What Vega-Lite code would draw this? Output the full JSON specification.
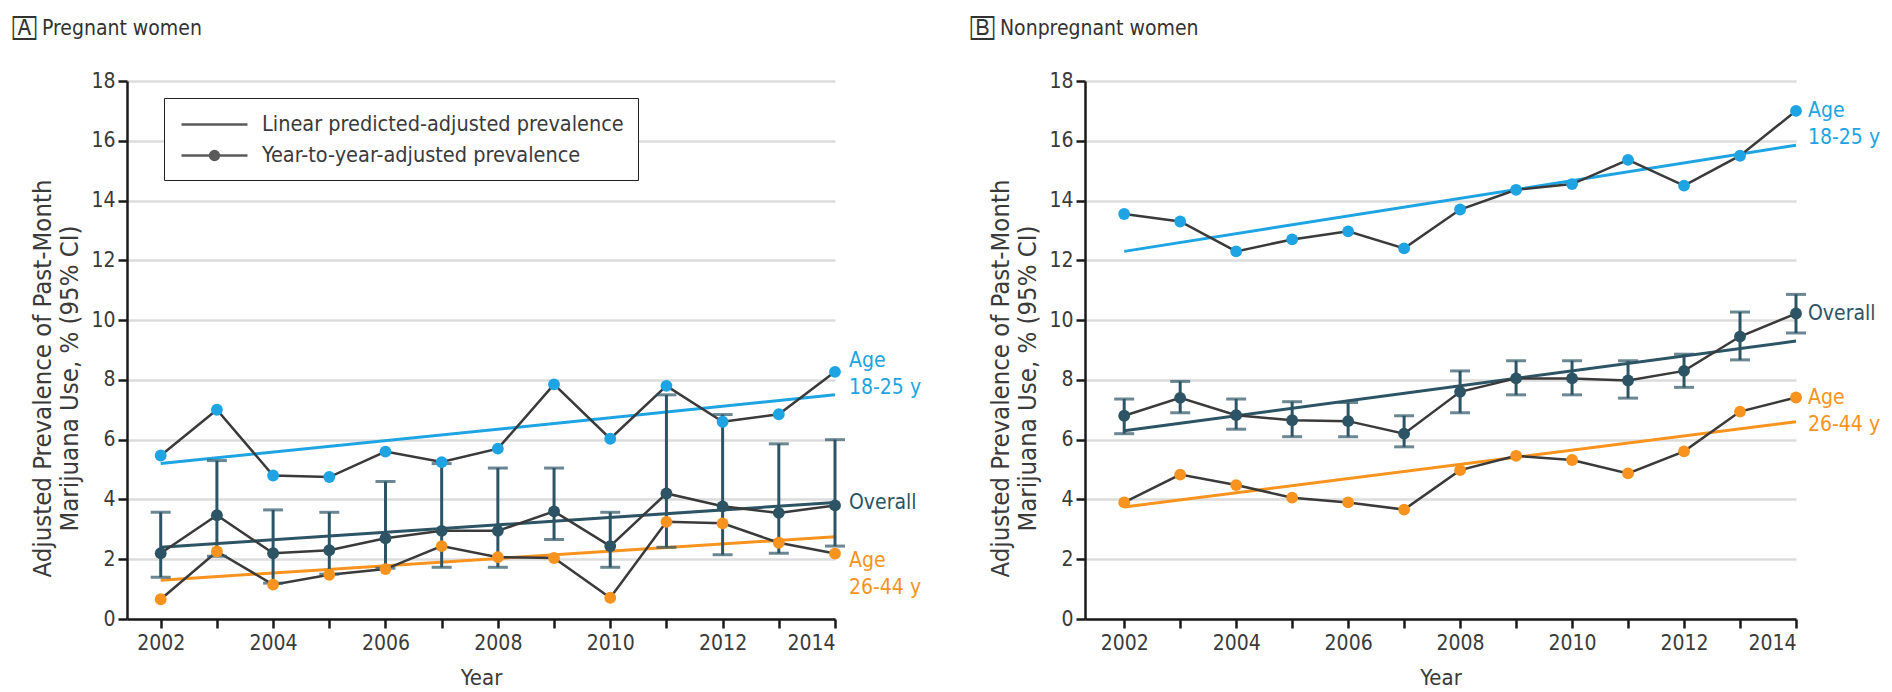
{
  "$schema": "https://vega.github.io/schema/vega-lite/v6.json",
  "padding": {"left": 12, "top": 18, "right": 5, "bottom": 5},
  "bounds": "flush",
  "spacing": 250,
  "background": "white",
  "config": {
    "view": {"stroke": null},
    "font": "DejaVu Sans Condensed",
    "axis": {
      "domainColor": "#1a1a1a", "domainWidth": 2.5,
      "tickColor": "#1a1a1a", "tickWidth": 2.5, "tickSize": 9,
      "labelFont": "DejaVu Sans Condensed", "labelFontSize": 21, "labelColor": "#3a3a3a",
      "titleFont": "DejaVu Sans Condensed", "titleFontSize": 22, "titleFontWeight": "normal", "titleColor": "#3a3a3a",
      "gridColor": "#dcdcdc", "gridWidth": 2.5
    },
    "title": {"font": "DejaVu Sans Condensed", "fontSize": 21, "fontWeight": "normal", "color": "#333333", "anchor": "start", "frame": "bounds"}
  },
  "datasets": {
    "a_pts": [
      {"year": 2002, "group": "18-25", "value": 5.47},
      {"year": 2003, "group": "18-25", "value": 7.0},
      {"year": 2004, "group": "18-25", "value": 4.8},
      {"year": 2005, "group": "18-25", "value": 4.75},
      {"year": 2006, "group": "18-25", "value": 5.6},
      {"year": 2007, "group": "18-25", "value": 5.25},
      {"year": 2008, "group": "18-25", "value": 5.7},
      {"year": 2009, "group": "18-25", "value": 7.85},
      {"year": 2010, "group": "18-25", "value": 6.03},
      {"year": 2011, "group": "18-25", "value": 7.8},
      {"year": 2012, "group": "18-25", "value": 6.6},
      {"year": 2013, "group": "18-25", "value": 6.85},
      {"year": 2014, "group": "18-25", "value": 8.27, "label": "Age|18-25 y"},
      {"year": 2002, "group": "Overall", "value": 2.2, "lo": 1.4, "hi": 3.57},
      {"year": 2003, "group": "Overall", "value": 3.47, "lo": 2.1, "hi": 5.3},
      {"year": 2004, "group": "Overall", "value": 2.2, "lo": 1.2, "hi": 3.65},
      {"year": 2005, "group": "Overall", "value": 2.3, "lo": 1.5, "hi": 3.57},
      {"year": 2006, "group": "Overall", "value": 2.7, "lo": 1.7, "hi": 4.6},
      {"year": 2007, "group": "Overall", "value": 2.95, "lo": 1.73, "hi": 5.2},
      {"year": 2008, "group": "Overall", "value": 2.95, "lo": 1.73, "hi": 5.05},
      {"year": 2009, "group": "Overall", "value": 3.6, "lo": 2.66, "hi": 5.05},
      {"year": 2010, "group": "Overall", "value": 2.44, "lo": 1.73, "hi": 3.57},
      {"year": 2011, "group": "Overall", "value": 4.2, "lo": 2.4, "hi": 7.5},
      {"year": 2012, "group": "Overall", "value": 3.77, "lo": 2.15, "hi": 6.84},
      {"year": 2013, "group": "Overall", "value": 3.55, "lo": 2.2, "hi": 5.86},
      {"year": 2014, "group": "Overall", "value": 3.8, "lo": 2.44, "hi": 6.0, "label": "Overall"},
      {"year": 2002, "group": "26-44", "value": 0.66},
      {"year": 2003, "group": "26-44", "value": 2.26},
      {"year": 2004, "group": "26-44", "value": 1.15},
      {"year": 2005, "group": "26-44", "value": 1.48},
      {"year": 2006, "group": "26-44", "value": 1.67},
      {"year": 2007, "group": "26-44", "value": 2.44},
      {"year": 2008, "group": "26-44", "value": 2.07},
      {"year": 2009, "group": "26-44", "value": 2.04},
      {"year": 2010, "group": "26-44", "value": 0.71},
      {"year": 2011, "group": "26-44", "value": 3.25},
      {"year": 2012, "group": "26-44", "value": 3.2},
      {"year": 2013, "group": "26-44", "value": 2.55},
      {"year": 2014, "group": "26-44", "value": 2.19, "label": "Age|26-44 y"}
    ],
    "a_trend": [
      {"year": 2002, "group": "18-25", "value": 5.2},
      {"year": 2014, "group": "18-25", "value": 7.5},
      {"year": 2002, "group": "Overall", "value": 2.4},
      {"year": 2014, "group": "Overall", "value": 3.9},
      {"year": 2002, "group": "26-44", "value": 1.3},
      {"year": 2014, "group": "26-44", "value": 2.75}
    ],
    "b_pts": [
      {"year": 2002, "group": "18-25", "value": 13.55},
      {"year": 2003, "group": "18-25", "value": 13.3},
      {"year": 2004, "group": "18-25", "value": 12.3},
      {"year": 2005, "group": "18-25", "value": 12.7},
      {"year": 2006, "group": "18-25", "value": 12.97},
      {"year": 2007, "group": "18-25", "value": 12.4},
      {"year": 2008, "group": "18-25", "value": 13.7},
      {"year": 2009, "group": "18-25", "value": 14.36},
      {"year": 2010, "group": "18-25", "value": 14.55},
      {"year": 2011, "group": "18-25", "value": 15.36},
      {"year": 2012, "group": "18-25", "value": 14.5},
      {"year": 2013, "group": "18-25", "value": 15.5},
      {"year": 2014, "group": "18-25", "value": 17.0, "label": "Age|18-25 y"},
      {"year": 2002, "group": "Overall", "value": 6.8, "lo": 6.2, "hi": 7.36},
      {"year": 2003, "group": "Overall", "value": 7.4, "lo": 6.9, "hi": 7.95},
      {"year": 2004, "group": "Overall", "value": 6.82, "lo": 6.35, "hi": 7.36},
      {"year": 2005, "group": "Overall", "value": 6.65, "lo": 6.1, "hi": 7.27},
      {"year": 2006, "group": "Overall", "value": 6.62, "lo": 6.1, "hi": 7.24},
      {"year": 2007, "group": "Overall", "value": 6.2, "lo": 5.76, "hi": 6.8},
      {"year": 2008, "group": "Overall", "value": 7.6, "lo": 6.9, "hi": 8.3},
      {"year": 2009, "group": "Overall", "value": 8.05, "lo": 7.5, "hi": 8.64},
      {"year": 2010, "group": "Overall", "value": 8.05, "lo": 7.5, "hi": 8.64},
      {"year": 2011, "group": "Overall", "value": 7.98, "lo": 7.39, "hi": 8.64},
      {"year": 2012, "group": "Overall", "value": 8.3, "lo": 7.75, "hi": 8.86},
      {"year": 2013, "group": "Overall", "value": 9.45, "lo": 8.67, "hi": 10.27},
      {"year": 2014, "group": "Overall", "value": 10.22, "lo": 9.57, "hi": 10.86, "label": "Overall"},
      {"year": 2002, "group": "26-44", "value": 3.9},
      {"year": 2003, "group": "26-44", "value": 4.83},
      {"year": 2004, "group": "26-44", "value": 4.48},
      {"year": 2005, "group": "26-44", "value": 4.06},
      {"year": 2006, "group": "26-44", "value": 3.9},
      {"year": 2007, "group": "26-44", "value": 3.66},
      {"year": 2008, "group": "26-44", "value": 4.98},
      {"year": 2009, "group": "26-44", "value": 5.46},
      {"year": 2010, "group": "26-44", "value": 5.32},
      {"year": 2011, "group": "26-44", "value": 4.87},
      {"year": 2012, "group": "26-44", "value": 5.61},
      {"year": 2013, "group": "26-44", "value": 6.94},
      {"year": 2014, "group": "26-44", "value": 7.41, "label": "Age|26-44 y"}
    ],
    "b_trend": [
      {"year": 2002, "group": "18-25", "value": 12.3},
      {"year": 2014, "group": "18-25", "value": 15.85},
      {"year": 2002, "group": "Overall", "value": 6.3},
      {"year": 2014, "group": "Overall", "value": 9.3},
      {"year": 2002, "group": "26-44", "value": 3.75},
      {"year": 2014, "group": "26-44", "value": 6.6}
    ],
    "legend_items": [
      {"kind": "Linear predicted-adjusted prevalence"},
      {"kind": "Year-to-year-adjusted prevalence"}
    ]
  },
  "resolve": {"legend": {"shape": "independent"}},
  "hconcat": [
    {
      "width": 708,
      "height": 538,
      "title": {"text": "🄰 Pregnant women", "dx": -18, "offset": 31},
      "encoding": {
        "x": {"type": "quantitative",
              "scale": {"domain": [2001.4, 2014], "nice": false, "zero": false},
              "axis": {"title": "Year", "grid": false, "values": [2002,2003,2004,2005,2006,2007,2008,2009,2010,2011,2012,2013,2014],
                       "labelExpr": "datum.value % 2 == 0 ? datum.value : ''", "labelPadding": 4, "titlePadding": 14}},
        "y": {"type": "quantitative",
              "scale": {"domain": [0, 18], "nice": false},
              "axis": {"title": ["Adjusted Prevalence of Past-Month", "Marijuana Use, % (95% CI)"], "values": [0,2,4,6,8,10,12,14,16,18],
                       "labelPadding": 3, "titlePadding": 8, "titleFontSize": 25.5, "titleLineHeight": 27, "titleY": 297}}
      },
      "layer": [
        {
          "data": {"name": "a_trend"},
          "mark": {"type": "line", "strokeWidth": 3},
          "encoding": {
            "x": {"field": "year"},
            "y": {"field": "value"},
            "color": {"field": "group", "type": "nominal",
                      "scale": {"domain": ["18-25", "Overall", "26-44"], "range": ["#1ea4e2", "#2c5464", "#f7931e"]},
                      "legend": null}
          }
        },
        {
          "data": {"name": "a_pts"},
          "mark": {"type": "line", "color": "#3a3a3a", "strokeWidth": 2.5},
          "encoding": {
            "x": {"field": "year"},
            "y": {"field": "value"},
            "detail": {"field": "group", "type": "nominal"}
          }
        },
        {
          "data": {"name": "a_pts"},
          "transform": [{"filter": "isValid(datum.lo)"}],
          "mark": {"type": "errorbar", "ticks": true, "size": 20, "thickness": 3, "color": "#2c5464"},
          "encoding": {
            "x": {"field": "year"},
            "y": {"field": "lo"},
            "y2": {"field": "hi"}
          }
        },
        {
          "data": {"name": "a_pts"},
          "mark": {"type": "circle", "size": 140, "opacity": 1},
          "encoding": {
            "x": {"field": "year"},
            "y": {"field": "value"},
            "color": {"field": "group", "type": "nominal", "legend": null}
          }
        },
        {
          "data": {"name": "a_pts"},
          "transform": [{"filter": "isValid(datum.label) && datum.group == '18-25'"}],
          "mark": {"type": "text", "align": "left", "baseline": "top", "dx": 14, "dy": -22, "fontSize": 21, "lineHeight": 27, "lineBreak": "|"},
          "encoding": {
            "x": {"field": "year"},
            "y": {"field": "value"},
            "text": {"field": "label", "type": "nominal"},
            "color": {"field": "group", "type": "nominal", "legend": null}
          }
        },
        {
          "data": {"name": "a_pts"},
          "transform": [{"filter": "isValid(datum.label) && datum.group == 'Overall'"}],
          "mark": {"type": "text", "align": "left", "baseline": "top", "dx": 14, "dy": -13, "fontSize": 21, "lineHeight": 27, "lineBreak": "|"},
          "encoding": {
            "x": {"field": "year"},
            "y": {"field": "value"},
            "text": {"field": "label", "type": "nominal"},
            "color": {"field": "group", "type": "nominal", "legend": null}
          }
        },
        {
          "data": {"name": "a_pts"},
          "transform": [{"filter": "isValid(datum.label) && datum.group == '26-44'"}],
          "mark": {"type": "text", "align": "left", "baseline": "top", "dx": 14, "dy": -4, "fontSize": 21, "lineHeight": 27, "lineBreak": "|"},
          "encoding": {
            "x": {"field": "year"},
            "y": {"field": "value"},
            "text": {"field": "label", "type": "nominal"},
            "color": {"field": "group", "type": "nominal", "legend": null}
          }
        },
        {
          "data": {"name": "legend_items"},
          "mark": {"type": "point", "opacity": 0},
          "encoding": {
            "shape": {"field": "kind", "type": "nominal",
                      "scale": {"domain": ["Linear predicted-adjusted prevalence", "Year-to-year-adjusted prevalence"],
                                "range": ["M-3,0H3", "M-3,0H3M-0.4,0A0.4,0.4,0,1,1,0.4,0A0.4,0.4,0,1,1,-0.4,0M-0.25,0A0.25,0.25,0,1,1,0.25,0A0.25,0.25,0,1,1,-0.25,0M-0.1,0A0.1,0.1,0,1,1,0.1,0A0.1,0.1,0,1,1,-0.1,0"]},
                      "legend": {"title": null, "orient": "none", "legendX": 37, "legendY": 17,
                                 "strokeColor": "#222222", "fillColor": "white", "padding": 14,
                                 "symbolSize": 484, "symbolOffset": 24, "labelOffset": 35,
                                 "symbolStrokeColor": "#5a5a5a", "symbolStrokeWidth": 2.5, "symbolOpacity": 1,
                                 "labelFont": "DejaVu Sans Condensed", "labelFontSize": 21.5, "labelColor": "#3a3a3a", "labelLimit": 600,
                                 "rowPadding": 8}}
          }
        }
      ]
    },
    {
      "width": 711,
      "height": 538,
      "title": {"text": "🄱 Nonpregnant women", "dx": -18, "offset": 31},
      "encoding": {
        "x": {"type": "quantitative",
              "scale": {"domain": [2001.3, 2014], "nice": false, "zero": false},
              "axis": {"title": "Year", "grid": false, "values": [2002,2003,2004,2005,2006,2007,2008,2009,2010,2011,2012,2013,2014],
                       "labelExpr": "datum.value % 2 == 0 ? datum.value : ''", "labelPadding": 4, "titlePadding": 14}},
        "y": {"type": "quantitative",
              "scale": {"domain": [0, 18], "nice": false},
              "axis": {"title": ["Adjusted Prevalence of Past-Month", "Marijuana Use, % (95% CI)"], "values": [0,2,4,6,8,10,12,14,16,18],
                       "labelPadding": 3, "titlePadding": 8, "titleFontSize": 25.5, "titleLineHeight": 27, "titleY": 297}}
      },
      "layer": [
        {
          "data": {"name": "b_trend"},
          "mark": {"type": "line", "strokeWidth": 3},
          "encoding": {
            "x": {"field": "year"},
            "y": {"field": "value"},
            "color": {"field": "group", "type": "nominal",
                      "scale": {"domain": ["18-25", "Overall", "26-44"], "range": ["#1ea4e2", "#2c5464", "#f7931e"]},
                      "legend": null}
          }
        },
        {
          "data": {"name": "b_pts"},
          "mark": {"type": "line", "color": "#3a3a3a", "strokeWidth": 2.5},
          "encoding": {
            "x": {"field": "year"},
            "y": {"field": "value"},
            "detail": {"field": "group", "type": "nominal"}
          }
        },
        {
          "data": {"name": "b_pts"},
          "transform": [{"filter": "isValid(datum.lo)"}],
          "mark": {"type": "errorbar", "ticks": true, "size": 20, "thickness": 3, "color": "#2c5464"},
          "encoding": {
            "x": {"field": "year"},
            "y": {"field": "lo"},
            "y2": {"field": "hi"}
          }
        },
        {
          "data": {"name": "b_pts"},
          "mark": {"type": "circle", "size": 140, "opacity": 1},
          "encoding": {
            "x": {"field": "year"},
            "y": {"field": "value"},
            "color": {"field": "group", "type": "nominal", "legend": null}
          }
        },
        {
          "data": {"name": "b_pts"},
          "transform": [{"filter": "isValid(datum.label)"}],
          "mark": {"type": "text", "align": "left", "baseline": "top", "dx": 12, "dy": -11, "fontSize": 21, "lineHeight": 27, "lineBreak": "|"},
          "encoding": {
            "x": {"field": "year"},
            "y": {"field": "value"},
            "text": {"field": "label", "type": "nominal"},
            "color": {"field": "group", "type": "nominal", "legend": null}
          }
        }
      ]
    }
  ]
}
